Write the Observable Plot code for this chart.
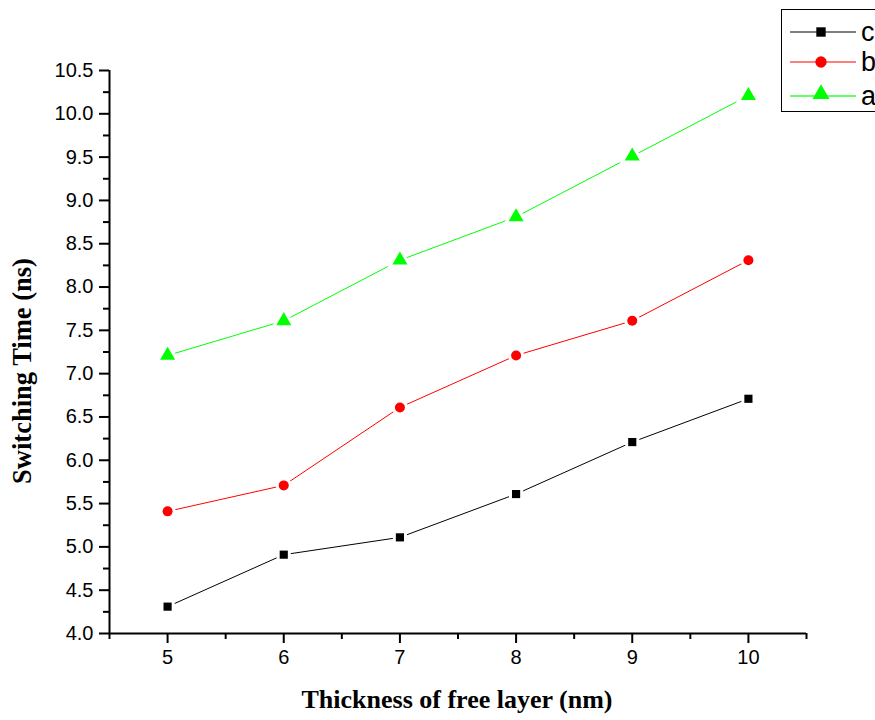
<!DOCTYPE html>
<html>
<head>
<meta charset="utf-8">
<script src="https://cdn.jsdelivr.net/npm/d3@7"></script>
<script src="https://cdn.jsdelivr.net/npm/@observablehq/plot@0.6"></script>
<style>
  html, body { margin: 0; padding: 0; background: #fff; }
  #wrap { position: relative; width: 875px; height: 720px; overflow: hidden; }
  #legend { position: absolute; left: 781px; top: 9px; width: 120px; height: 103px;
            border: 1.5px solid #000; background: #fff; box-sizing: border-box; }
  #legend .row { position: absolute; left: 0; height: 30px; display: flex; align-items: center; }
  #legend .row span { font-family: "Liberation Sans", Arial, sans-serif; font-size: 27px; line-height: 30px; margin-left: 3px; color: #000; }
</style>
</head>
<body>
<div id="wrap"><div id="chart"></div><div id="legend"></div></div>
<script>
const thickness = [5, 6, 7, 8, 9, 10];
const seriesC = [4.31, 4.91, 5.11, 5.61, 6.21, 6.71];
const seriesB = [5.41, 5.71, 6.61, 7.21, 7.61, 8.31];
const seriesA = [7.21, 7.61, 8.31, 8.81, 9.51, 10.21];
const seriesNames = ["c", "b", "a"];
const seriesColors = ["#000000", "#ff0000", "#00ff00"];
const seriesSymbols = ["square", "circle", "triangle"];
const seriesR = [4.6, 5, 5.6];
const xMajorTicks = [5, 6, 7, 8, 9, 10];
const xMinorTicks = [4.5, 5.5, 6.5, 7.5, 8.5, 9.5, 10.5];
const yMajorTicks = d3.range(4, 10.51, 0.5);
const yMinorTicks = d3.range(4.25, 10.5, 0.5);

const allSeries = [seriesC, seriesB, seriesA];
const rows = [];
allSeries.forEach((vals, s) => vals.forEach((v, i) => rows.push({x: thickness[i], y: v, s: seriesNames[s]})));

const marks = [];
seriesNames.forEach((name, s) => {
  const d = rows.filter(r => r.s === name);
  marks.push(Plot.line(d, {x: "x", y: "y", stroke: seriesColors[s], strokeWidth: 1}));
});
seriesNames.forEach((name, s) => {
  const d = rows.filter(r => r.s === name);
  marks.push(Plot.dot(d, {x: "x", y: "y", symbol: () => seriesSymbols[s], r: seriesR[s],
    fill: seriesColors[s], stroke: "white", strokeWidth: 6, paintOrder: "stroke"}));
});

const chart = Plot.plot({
  width: 875,
  height: 720,
  marginLeft: 109,
  marginRight: 69,
  marginTop: 70,
  marginBottom: 87,
  style: {fontFamily: "'Liberation Sans', Arial, sans-serif", fontSize: "20px", background: "white", color: "black"},
  x: {domain: [4.5, 10.5]},
  y: {domain: [4, 10.5]},
  marks: [
    ...marks,
    Plot.axisX({ticks: xMajorTicks, tickSize: 10, tickPadding: 6, strokeWidth: 2, fontSize: 20, label: null, tickFormat: d => String(d)}),
    Plot.axisX({ticks: xMinorTicks, tickSize: 6, strokeWidth: 2, label: null, tickFormat: () => ""}),
    Plot.axisY({ticks: yMajorTicks, tickSize: 10, tickPadding: 6, strokeWidth: 2, fontSize: 20, label: null, tickFormat: d3.format(".1f")}),
    Plot.axisY({ticks: yMinorTicks, tickSize: 6, strokeWidth: 2, label: null, tickFormat: () => ""}),
    Plot.ruleX([4.5], {strokeWidth: 2}),
    Plot.ruleY([4], {strokeWidth: 2}),
    Plot.text(["Switching Time (ns)"], {frameAnchor: "left", textAnchor: "middle", dx: -87, dy: 19, rotate: -90,
      fontFamily: "'Liberation Serif', 'Times New Roman', serif", fontWeight: "bold", fontSize: 26.5, fill: "black"}),
    Plot.text(["Thickness of free layer (nm)"], {frameAnchor: "bottom", dx: -1, dy: 74,
      fontFamily: "'Liberation Serif', 'Times New Roman', serif", fontWeight: "bold", fontSize: 26, fill: "black"})
  ]
});
document.getElementById("chart").appendChild(chart);

// legend
const legend = document.getElementById("legend");
const rowTops = [7, 37, 71];
seriesNames.forEach((name, s) => {
  const row = document.createElement("div");
  row.className = "row";
  row.style.top = rowTops[s] + "px";
  const svg = d3.create("svg").attr("width", 76).attr("height", 30);
  svg.append("line").attr("x1", 8).attr("x2", 74).attr("y1", 15).attr("y2", 15)
    .attr("stroke", seriesColors[s]).attr("stroke-width", s === 2 ? 2 : 1.2).attr("stroke-opacity", s === 2 ? 0.6 : 1);
  const sym = {square: d3.symbolSquare, circle: d3.symbolCircle, triangle: d3.symbolTriangle}[seriesSymbols[s]];
  const size = [88, 100, 125][s];
  svg.append("path").attr("d", d3.symbol(sym, size)()).attr("transform", `translate(39,${s === 2 ? 13 : 15})`)
    .attr("fill", seriesColors[s]);
  row.appendChild(svg.node());
  const t = document.createElement("span");
  t.textContent = name;
  row.appendChild(t);
  legend.appendChild(row);
});
</script>
</body>
</html>
